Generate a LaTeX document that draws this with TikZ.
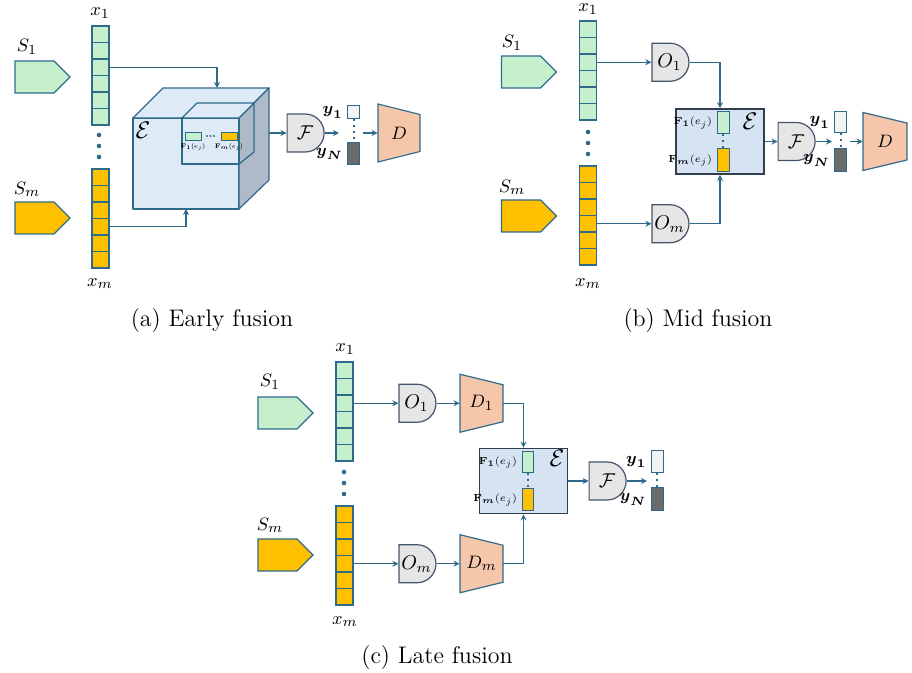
\documentclass[tikz,border=0pt]{standalone}
\usepackage{amsmath}
\usepackage{amssymb}
\usetikzlibrary{positioning,arrows.meta,shapes.symbols,shapes.misc}
\definecolor{LineBlue}{HTML}{2E6B8A}
\definecolor{SrcGreen}{HTML}{C6EFCE}
\definecolor{SrcOrange}{HTML}{FFC000}
\definecolor{GateGray}{HTML}{E7E6E6}
\definecolor{GateLine}{HTML}{44546A}
\definecolor{DecSalmon}{HTML}{F6C6AA}
\definecolor{EncBlue}{HTML}{D5E3F3}
\definecolor{EncLine}{HTML}{2F3F4F}
\definecolor{CubeFront}{HTML}{DEEAF6}
\definecolor{CubeSide}{HTML}{AEBAC8}
\definecolor{YLight}{HTML}{F2F2F2}
\definecolor{YDark}{HTML}{6B6B6B}
\tikzset{
  srcbox/.style={signal,signal to=east,signal pointer angle=90,draw=LineBlue,
    line width=0.6pt,minimum width=27.5pt,minimum height=16pt,inner sep=0pt},
  cellbox/.style={draw=LineBlue,line width=0.6pt,minimum width=8.5pt,
    minimum height=8.25pt,inner sep=0pt},
  gatebox/.style={rounded rectangle,rounded rectangle left arc=none,draw=GateLine,
    fill=GateGray,line width=0.6pt,minimum width=18.5pt,minimum height=19pt,
    inner sep=0pt,font=\fontsize{10}{11}\selectfont},
  link/.style={draw=LineBlue,line width=0.6pt,-{Stealth[length=3pt,width=3pt]}},
  outbox/.style={draw=LineBlue,line width=0.5pt,minimum width=6pt,inner sep=0pt},
  featbox/.style={draw=LineBlue,line width=0.5pt,inner sep=0pt},
  encbox/.style={draw=EncLine,line width=0.8pt,fill=EncBlue,minimum width=44pt,
    minimum height=32.5pt,inner sep=0pt},
  cubeline/.style={draw=LineBlue,line width=0.6pt,line join=round},
  decline/.style={draw=LineBlue,line width=0.6pt,fill=DecSalmon},
  lbl/.style={font=\fontsize{9.5}{11}\selectfont,inner sep=0pt},
  ylbl/.style={font=\fontsize{8}{9}\selectfont,inner sep=0pt},
  ftxt/.style={font=\fontsize{6.5}{7.5}\selectfont,inner sep=0pt},
  capt/.style={font=\fontsize{12}{14}\selectfont},
}
% column of six cells: name, left x, top y, fill
\newcommand{\featcol}[4]{%
  \foreach \k in {1,...,6}
    \node[cellbox,fill=#4] (#1-\k) at (#2+8.5,#3+16.5*\k-8.25) {};
}
% decoder trapezium: name, left x, centre y, width, label
\newcommand{\decoder}[5]{%
  \draw[decline] (#2,#3-29) -- (#2+#4,#3-18.5) -- (#2+#4,#3+18.5) -- (#2,#3+29) -- cycle;
  \node[lbl,minimum width={#4*0.5pt},minimum height=29pt] (#1) at (#2+#4/2,#3) {#5};
}
% three dots: x, top y
\newcommand{\vdotcol}[2]{%
  \foreach \k in {0,1,2}
    \fill[LineBlue] (#1,#2+11*\k) circle (2.3);
}
\newcommand{\fone}{$\mathbf{F}_{\mathbf{1}}(e_j)$}
\newcommand{\fem}{$\mathbf{F}_{\boldsymbol{m}}(e_j)$}

\begin{document}
\begin{tikzpicture}[x=0.5pt,y=-0.5pt]
  \useasboundingbox (0,0) rectangle (912,673);

  % ---------------- (a) early fusion
  \node[srcbox,fill=SrcGreen] (aS1) at (34.5,77) {};
  \node[srcbox,fill=SrcOrange] (aSm) at (34.5,218) {};
  \node[lbl] (aS1l) at (27,47) {$S_1$};
  \node[lbl] (aSml) at (27,189) {$S_m$};
  \featcol{ax1}{92}{26}{SrcGreen}
  \featcol{axm}{92}{169}{SrcOrange}
  \node[lbl] (ax1l) at (100,13) {$x_1$};
  \node[lbl] (axml) at (100,284) {$x_m$};
  \vdotcol{99}{135}
  % cube
  \draw[cubeline,fill=CubeFront] (133,118) rectangle (239,209);
  \draw[cubeline,fill=CubeFront] (133,118) -- (163,88) -- (269,88) -- (239,118) -- cycle;
  \draw[cubeline,fill=CubeSide] (239,118) -- (269,88) -- (269,180) -- (239,209) -- cycle;
  \draw[cubeline,fill=CubeFront] (182,118) rectangle (239,164);
  \draw[cubeline,fill=CubeFront] (182,118) -- (197,103) -- (254,103) -- (239,118) -- cycle;
  \draw[cubeline] (254,103) -- (254,152) -- (239,164);
  \node[lbl,font=\fontsize{12}{14}\selectfont] (aEl) at (143,130) {$\mathcal{E}$};
  \node[featbox,fill=SrcGreen,minimum width=8pt,minimum height=4pt] (aF1) at (193,137) {};
  \node[featbox,fill=SrcOrange,minimum width=8pt,minimum height=4pt] (aFm) at (229,137) {};
  \foreach \k in {0,1,2}
    \fill[LineBlue] (207+3.5*\k,136) circle (1.1);
  \node[ftxt] (aF1l) at (193,147) {\scalebox{0.55}{\fone}};
  \node[ftxt] (aFml) at (229,147) {\scalebox{0.55}{\fem}};
  \coordinate (aEncTop) at (217,88);
  \coordinate (aEncBot) at (186,209);
  \coordinate (aEncOut) at (269,133);
  \node[gatebox] (aF) at (305,133) {$\mathcal{F}$};
  \node[outbox,fill=YLight,minimum height=6.5pt] (ay1) at (353.5,112.5) {};
  \node[outbox,fill=YDark,minimum height=11pt] (ayN) at (353.5,154) {};
  \node[ylbl,left=2pt of ay1] (ay1l) {$\boldsymbol{y}_{\mathbf{1}}$};
  \node[ylbl,left=2pt of ayN] (ayNl) {$\boldsymbol{y}_{\boldsymbol{N}}$};
  \draw[LineBlue,dotted,line width=1pt] (ay1.south) -- (ayN.north);
  \coordinate (aYin) at (339,133);
  \coordinate (aYout) at (363,133);
  \decoder{aD}{378}{133}{42}{$D$}
  \draw[link] (ax1-3.east) -| (aEncTop);
  \draw[link] (axm-4.east) -| (aEncBot);
  \draw[link] (aEncOut) -- (aF.west);
  \draw[link] (aF.east) -- (aYin);
  \draw[link] (aYout) -- (aD.west);
  \node[capt] (acap) at (212,321) {(a) Early fusion};

  % ---------------- (b) mid fusion
  \node[srcbox,fill=SrcGreen] (bS1) at (521,72) {};
  \node[srcbox,fill=SrcOrange] (bSm) at (521,216) {};
  \node[lbl] (bS1l) at (512,43) {$S_1$};
  \node[lbl] (bSml) at (512,187) {$S_m$};
  \featcol{bx1}{579.5}{21}{SrcGreen}
  \featcol{bxm}{579.5}{166}{SrcOrange}
  \node[lbl] (bx1l) at (588,9) {$x_1$};
  \node[lbl] (bxml) at (588,284) {$x_m$};
  \vdotcol{588}{132}
  \node[gatebox] (bO1) at (669.5,62.25) {$O_1$};
  \node[gatebox] (bOm) at (669.5,223.75) {$O_m$};
  \node[encbox] (bE) at (720,141.5) {};
  \node[lbl,font=\fontsize{12}{14}\selectfont] (bEl) at (750,121) {$\mathcal{E}$};
  \node[featbox,fill=SrcGreen,minimum width=6pt,minimum height=11pt] (bF1) at (723,123) {};
  \node[featbox,fill=SrcOrange,minimum width=6pt,minimum height=11.5pt] (bFm) at (723,160.5) {};
  \draw[LineBlue,dotted,line width=1pt] (bF1.south) -- (bFm.north);
  \node[ftxt,left=2pt of bF1] (bF1l) {\scalebox{0.85}{\fone}};
  \node[ftxt,left=2pt of bFm] (bFml) {\scalebox{0.85}{\fem}};
  \node[gatebox] (bF) at (796,141.5) {$\mathcal{F}$};
  \node[outbox,fill=YLight,minimum height=10.5pt] (by1) at (840.5,122.5) {};
  \node[outbox,fill=YDark,minimum height=11.5pt] (byN) at (840.5,160.5) {};
  \node[ylbl,left=2pt of by1] (by1l) {$\boldsymbol{y}_{\mathbf{1}}$};
  \node[ylbl,left=2pt of byN] (byNl) {$\boldsymbol{y}_{\boldsymbol{N}}$};
  \draw[LineBlue,dotted,line width=1pt] (by1.south) -- (byN.north);
  \coordinate (bYin) at (832,141.5);
  \coordinate (bYout) at (850,141.5);
  \decoder{bD}{863}{141.5}{44}{$D$}
  \draw[link] (bx1-3.east) -- (bO1.west);
  \draw[link] (bxm-4.east) -- (bOm.west);
  \draw[link] (bO1.east) -| (bE.north);
  \draw[link] (bOm.east) -| (bE.south);
  \draw[link] (bE.east) -- (bF.west);
  \draw[link] (bF.east) -- (bYin);
  \draw[link] (bYout) -- (bD.west);
  \node[capt] (bcap) at (698,321) {(b) Mid fusion};

  % ---------------- (c) late fusion
  \node[srcbox,fill=SrcGreen] (cS1) at (277.5,413) {};
  \node[srcbox,fill=SrcOrange] (cSm) at (277.5,555) {};
  \node[lbl] (cS1l) at (270,382) {$S_1$};
  \node[lbl] (cSml) at (270,525) {$S_m$};
  \featcol{cx1}{336}{362}{SrcGreen}
  \featcol{cxm}{336}{506}{SrcOrange}
  \node[lbl] (cx1l) at (345,349) {$x_1$};
  \node[lbl] (cxml) at (345,622) {$x_m$};
  \vdotcol{344}{472}
  \node[gatebox] (cO1) at (416.5,403.25) {$O_1$};
  \node[gatebox] (cOm) at (416.5,563.75) {$O_m$};
  \decoder{cD1}{460}{403.25}{43}{$D_1$}
  \decoder{cDm}{460}{563.75}{43}{$D_m$}
  \node[encbox] (cE) at (523.5,481) {};
  \node[lbl,font=\fontsize{12}{14}\selectfont] (cEl) at (557,458) {$\mathcal{E}$};
  \node[featbox,fill=SrcGreen,minimum width=5.5pt,minimum height=10.5pt] (cF1) at (527.5,462.5) {};
  \node[featbox,fill=SrcOrange,minimum width=5.5pt,minimum height=11pt] (cFm) at (527.5,500) {};
  \draw[LineBlue,dotted,line width=1pt] (cF1.south) -- (cFm.north);
  \node[ftxt,left=2pt of cF1] (cF1l) {\scalebox{0.85}{\fone}};
  \node[ftxt,left=2pt of cFm] (cFml) {\scalebox{0.85}{\fem}};
  \node[gatebox] (cF) at (607,481) {$\mathcal{F}$};
  \node[outbox,fill=YLight,minimum height=11pt] (cy1) at (657,462) {};
  \node[outbox,fill=YDark,minimum height=11.5pt] (cyN) at (657,499.5) {};
  \node[ylbl,left=2pt of cy1] (cy1l) {$\boldsymbol{y}_{\mathbf{1}}$};
  \node[ylbl,left=2pt of cyN] (cyNl) {$\boldsymbol{y}_{\boldsymbol{N}}$};
  \draw[LineBlue,dotted,line width=1pt] (cy1.south) -- (cyN.north);
  \coordinate (cYin) at (647,481);
  \draw[link] (cx1-3.east) -- (cO1.west);
  \draw[link] (cxm-4.east) -- (cOm.west);
  \draw[link] (cO1.east) -- (cD1.west);
  \draw[link] (cOm.east) -- (cDm.west);
  \draw[link] (cD1.east) -| (cE.north);
  \draw[link] (cDm.east) -| (cE.south);
  \draw[link] (cE.east) -- (cF.west);
  \draw[link] (cF.east) -- (cYin);
  \node[capt] (ccap) at (437,658) {(c) Late fusion};
\end{tikzpicture}
\end{document}
